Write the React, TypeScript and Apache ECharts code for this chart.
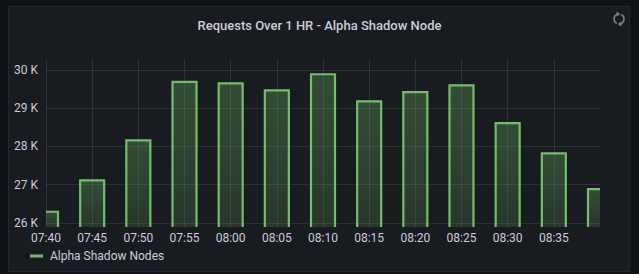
import React, { useEffect, useRef } from "react";
import * as echarts from "echarts";

const categories = ["07:40", "07:45", "07:50", "07:55", "08:00", "08:05", "08:10", "08:15", "08:20", "08:25", "08:30", "08:35", "08:40"];
const requests = [26290, 27110, 28160, 29690, 29650, 29470, 29890, 29180, 29420, 29600, 28610, 27820, 26880];
const seriesName = "Alpha Shadow Nodes";
const titleText = "Requests Over 1 HR - Alpha Shadow Node";

const GRID = "rgba(204,204,220,0.12)";
const TEXT = "#ccccdc";
const GREEN = "#73BF69";
const FONT = "Roboto";
const Y_MIN = 25890;
const Y_MAX = 30290;

export default function App() {
  const ref = useRef<HTMLDivElement>(null);
  useEffect(() => {
    if (!ref.current) return;
    const chart = echarts.init(ref.current, undefined, { renderer: "svg" });
    const last = categories.length - 1;
    const fill = new echarts.graphic.LinearGradient(0, 0, 0, 1, [
      { offset: 0, color: "rgba(115,191,105,0.30)" },
      { offset: 1, color: "rgba(115,191,105,0.17)" },
    ]);
    chart.setOption({
      animation: false,
      backgroundColor: "transparent",
      textStyle: { fontFamily: FONT },
      title: {
        text: titleText,
        left: "center",
        top: 14,
        textStyle: { color: TEXT, fontSize: 13, fontWeight: 500, fontFamily: FONT },
      },
      grid: { left: 46, right: 39, top: 59, bottom: 47, containLabel: false },
      legend: {
        left: 30,
        top: 250,
        padding: 0,
        icon: "rect",
        itemWidth: 13,
        itemHeight: 3,
        itemGap: 10,
        textStyle: { color: TEXT, fontSize: 12, fontFamily: FONT, padding: [0, 0, 0, 2] },
        data: [{ name: seriesName, itemStyle: { color: GREEN, borderWidth: 0 } }],
      },
      xAxis: {
        type: "category",
        data: categories,
        boundaryGap: false,
        axisLine: { show: false },
        axisTick: { show: false },
        axisLabel: {
          color: TEXT,
          fontSize: 12,
          fontFamily: FONT,
          margin: 5,
          interval: (i: number) => i < last,
        },
        splitLine: {
          show: true,
          interval: (i: number) => i < last,
          lineStyle: { color: GRID, width: 1 },
        },
      },
      yAxis: {
        type: "value",
        min: Y_MIN,
        max: Y_MAX,
        axisLine: { show: false },
        axisTick: { show: false },
        axisLabel: {
          color: TEXT,
          fontSize: 12,
          fontFamily: FONT,
          margin: 8,
          showMinLabel: false,
          showMaxLabel: false,
          formatter: (v: number) => `${Math.round(v / 1000)} K`,
        },
        splitLine: {
          show: true,
          lineStyle: {
            color: ["transparent", GRID, GRID, GRID, GRID, GRID, "transparent"],
            width: 1,
          },
        },
      },
      series: [
        {
          name: seriesName,
          type: "custom",
          data: requests.map((v, i) => [i, v]),
          encode: { x: 0, y: 1 },
          itemStyle: { color: GREEN },
          renderItem: (params: any, api: any) => {
            const top = api.coord([api.value(0), api.value(1)]);
            const base = api.coord([api.value(0), Y_MIN]);
            const w = 24;
            const rect = { x: top[0] - w / 2, y: top[1], width: w, height: base[1] - top[1] };
            const cs = params.coordSys;
            const area = { x: cs.x, y: cs.y, width: cs.width, height: cs.height };
            const c = echarts.graphic.clipRectByRect(rect, area);
            if (!c) return null;
            const leftClipped = c.x > rect.x + 0.01;
            const rightClipped = c.x + c.width < rect.x + rect.width - 0.01;
            const bottom = c.y + c.height;
            const pts: number[][] = [];
            if (!leftClipped) pts.push([c.x, bottom]);
            pts.push([c.x, c.y]);
            pts.push([c.x + c.width, c.y]);
            if (!rightClipped) pts.push([c.x + c.width, bottom]);
            return {
              type: "group",
              children: [
                { type: "rect", shape: c, style: { fill } },
                { type: "polyline", shape: { points: pts }, style: { stroke: GREEN, lineWidth: 2.2, fill: "none" } },
              ],
            };
          },
        },
      ],
      graphic: [
        {
          type: "arc",
          shape: { cx: 619, cy: 19, r: 5, startAngle: Math.PI * 0.65, endAngle: Math.PI * 1.4 },
          style: { stroke: "#7b7d82", lineWidth: 1.6, fill: "none" },
        },
        {
          type: "arc",
          shape: { cx: 619, cy: 19, r: 5, startAngle: -Math.PI * 0.35, endAngle: Math.PI * 0.4 },
          style: { stroke: "#7b7d82", lineWidth: 1.6, fill: "none" },
        },
        {
          type: "polygon",
          shape: { points: [[616.5, 11.5], [620.5, 14], [616.5, 16.5]] },
          style: { fill: "#7b7d82" },
        },
        {
          type: "polygon",
          shape: { points: [[621.5, 21.5], [617.5, 24], [621.5, 26.5]] },
          style: { fill: "#7b7d82" },
        },
      ],
    });
    return () => chart.dispose();
  }, []);

  return (
    <div style={{ position: "fixed", left: 0, top: 0, width: 639, height: 274, background: "#111217", overflow: "hidden" }}>
      <div
        style={{
          position: "absolute",
          left: 8,
          top: 6,
          width: 620,
          height: 264,
          background: "#181b1f",
          border: "1px solid #25272c",
        }}
      />
      <div ref={ref} style={{ position: "absolute", left: 0, top: 0, width: 639, height: 274 }} />
    </div>
  );
}
